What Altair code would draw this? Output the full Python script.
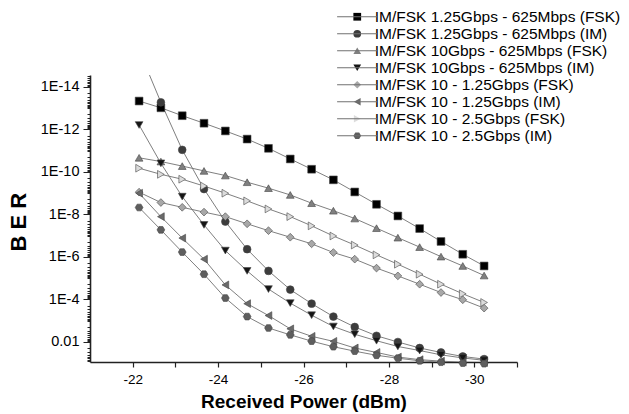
import altair as alt
import pandas as pd

# Received power (dBm) of the measurement points
power = [-22.15, -22.66, -23.16, -23.67, -24.17, -24.68, -25.18, -25.69, -26.19,
         -26.70, -27.20, -27.71, -28.21, -28.72, -29.22, -29.73, -30.23]

series_names = [
    "IM/FSK 1.25Gbps - 625Mbps (FSK)",
    "IM/FSK 1.25Gbps - 625Mbps (IM)",
    "IM/FSK 10Gbps - 625Mbps (FSK)",
    "IM/FSK 10Gbps - 625Mbps (IM)",
    "IM/FSK 10 - 1.25Gbps (FSK)",
    "IM/FSK 10 - 1.25Gbps (IM)",
    "IM/FSK 10 - 2.5Gbps (FSK)",
    "IM/FSK 10 - 2.5Gbps (IM)",
]

ber_125_625_fsk = [4.7e-14, 9.8e-14, 2.3e-13, 5.2e-13, 1.2e-12, 2.9e-12, 7.9e-12, 2.5e-11, 7.6e-11,
                   2.4e-10, 8.9e-10, 3.4e-9, 1.2e-8, 4.7e-8, 1.9e-7, 7.6e-7, 2.7e-6]
ber_125_625_im = [1.9e-16, 5.4e-14, 9.3e-12, 6.5e-10, 2.2e-8, 4.4e-7, 4.6e-6, 3.5e-5, 1.6e-4,
                  6.5e-4, 2.0e-3, 5.2e-3, 1.02e-2, 1.95e-2, 3.16e-2, 4.9e-2, 6.5e-2]
ber_10_625_fsk = [2.2e-11, 3.3e-11, 5.4e-11, 9.1e-11, 1.5e-10, 3.1e-10, 5.9e-10, 1.23e-9, 3.0e-9,
                  6.8e-9, 1.58e-8, 4.5e-8, 1.26e-7, 3.5e-7, 9.8e-7, 2.7e-6, 7.6e-6]
ber_10_625_im = [6.3e-13, 4.0e-11, 1.48e-9, 3.16e-8, 5.1e-7, 4.6e-6, 3.3e-5, 1.51e-4, 5.6e-4,
                 1.9e-3, 4.4e-3, 8.9e-3, 1.66e-2, 2.57e-2, 4.1e-2, 5.75e-2, 7.4e-2]
ber_10_125_fsk = [9.1e-10, 2.8e-9, 4.7e-9, 7.9e-9, 1.29e-8, 2.8e-8, 5.9e-8, 1.2e-7, 2.45e-7,
                  6.3e-7, 1.29e-6, 3.4e-6, 7.9e-6, 1.95e-5, 4.8e-5, 1.05e-4, 2.6e-4]
ber_10_125_im = [1.02e-9, 1.29e-8, 1.32e-7, 1.29e-6, 2.1e-5, 1.6e-4, 5.8e-4, 2.45e-3, 5.5e-3,
                 9.5e-3, 1.95e-2, 3.16e-2, 5.2e-2, 6.9e-2, 8.1e-2, 9.1e-2, 9.5e-2]
ber_10_25_fsk = [6.8e-11, 1.32e-10, 2.24e-10, 4.7e-10, 1.02e-9, 2.34e-9, 5.6e-9, 1.29e-8, 3.5e-8,
                 1.05e-7, 2.8e-7, 8.1e-7, 2.24e-6, 6.6e-6, 1.95e-5, 5.5e-5, 1.41e-4]
ber_10_25_im = [4.8e-9, 5.4e-8, 6.0e-7, 6.6e-6, 8.7e-5, 6.5e-4, 2.24e-3, 4.7e-3, 9.3e-3,
                1.7e-2, 2.75e-2, 4.3e-2, 5.9e-2, 7.8e-2, 9.1e-2, 1.0e-1, 1.07e-1]

all_ber = [ber_125_625_fsk, ber_125_625_im, ber_10_625_fsk, ber_10_625_im,
           ber_10_125_fsk, ber_10_125_im, ber_10_25_fsk, ber_10_25_im]

# axis tick lists
x_ticks = [-22, -23, -24, -25, -26, -27, -28, -29, -30, -31]
y_decades = [-15, -14, -13, -12, -11, -10, -9, -8, -7, -6, -5, -4, -3, -2]
y_mult = [1, 2, 3, 4, 5, 6, 7, 8, 9]

Y_MIN, Y_MAX = 2.8e-15, 0.089
y_ticks = [m * 10.0 ** e for e in y_decades for m in y_mult if Y_MIN <= m * 10.0 ** e <= Y_MAX]

# styles
shapes = ["square", "circle", "triangle-up", "triangle-down", "diamond",
          "triangle-left", "triangle-right",
          "M-1,0L-0.5,-0.866L0.5,-0.866L1,0L0.5,0.866L-0.5,0.866Z"]
fills = ["#000000", "#3c3c3c", "#808080", "#151515", "#a8a8a8", "#6a6a6a", "#dcdcdc", "#5e5e5e"]
line_colors = ["#707070"] * len(series_names)

rows = []
for name, vals in zip(series_names, all_ber):
    for p, b in zip(power, vals):
        rows.append({"power": p, "ber": b, "series": name, "series_line": name})
df = pd.DataFrame(rows)

FONT = "Liberation Sans"
LEG_X, LEG_Y = 259.5, -66.0
LEG_FS, LEG_ROWPAD = 15.5, -1.8
LEG_LABEL_OFF = 9.7

x_enc = alt.X(
    "power:Q",
    scale=alt.Scale(domain=[-21, -31], nice=False, zero=False),
    axis=alt.Axis(
        values=x_ticks,
        labelExpr="datum.value % 2 == 0 ? '' + datum.value : ''",
        title="Received Power (dBm)",
        titleFont=FONT, titleFontSize=19, titleFontWeight="bold", titleColor="#000",
        titleX=213.5, titleY=45.7, titleBaseline="alphabetic", titleAlign="center",
        labelFont=FONT, labelFontSize=13.5, labelColor="#000", labelPadding=5,
        tickSize=5, tickColor="#222", tickWidth=1.2,
        domainColor="#222", domainWidth=1.6, grid=False, labelFlush=False,
    ),
)

logv = "(log(datum.value)/LN10)"
is_major = f"abs({logv} - round({logv})) < 0.01 && round({logv}) % 2 == 0"
y_enc = alt.Y(
    "ber:Q",
    scale=alt.Scale(type="log", domain=[Y_MAX, Y_MIN], nice=False),
    axis=alt.Axis(
        values=y_ticks,
        labelExpr=f"{is_major} ? (round({logv}) == -2 ? '0.01' : '1E' + round({logv})) : ''",
        title="B E R",
        titleFont=FONT, titleFontSize=22, titleFontWeight="bold", titleColor="#000",
        titleX=-65, titleY=146.7, titleBaseline="alphabetic", titleAlign="center",
        labelFont=FONT, labelFontSize=14.5, labelColor="#000", labelPadding=4,
        tickSize={"condition": {"test": is_major, "value": 7}, "value": 3},
        tickColor="#222", tickWidth=1,
        domainColor="#222", domainWidth=1.6, grid=False, labelFlush=False,
        labelOverlap=False,
    ),
)

lines = alt.Chart(df).mark_line(clip=True, strokeWidth=0.9).encode(
    x=x_enc,
    y=y_enc,
    color=alt.Color(
        "series_line:N",
        scale=alt.Scale(domain=series_names, range=line_colors),
        legend=alt.Legend(
            title=None, orient="none", legendX=LEG_X, legendY=LEG_Y,
            symbolType="M-5.2,0H5.2", symbolSize=60, symbolStrokeWidth=1,
            symbolStrokeColor="#707070",
            labelExpr="' '",
            labelFont=FONT, labelFontSize=LEG_FS, labelLimit=400,
            rowPadding=LEG_ROWPAD, padding=0, labelOffset=LEG_LABEL_OFF,
        ),
    ),
    detail="series:N",
)

pt_legend = alt.Legend(
    title=None, orient="none", legendX=LEG_X, legendY=LEG_Y,
    symbolSize=60, symbolStrokeColor="#444", symbolStrokeWidth=0.6,
    labelFont=FONT, labelFontSize=LEG_FS, labelColor="#000", labelLimit=400,
    rowPadding=LEG_ROWPAD, padding=0, labelOffset=LEG_LABEL_OFF,
)

points = alt.Chart(df).mark_point(filled=True, size=60, stroke="#444", strokeWidth=0.6, opacity=1).encode(
    x=x_enc,
    y=y_enc,
    shape=alt.Shape("series:N", scale=alt.Scale(domain=series_names, range=shapes), legend=pt_legend),
    fill=alt.Fill("series:N", scale=alt.Scale(domain=series_names, range=fills), legend=pt_legend),
).transform_filter(f"datum.ber >= {Y_MIN}")

chart = alt.layer(lines, points).resolve_legend(color="independent").properties(
    width=427, height=287,
    autosize=alt.AutoSizeParams(type="none"),
    padding={"left": 90, "top": 75, "right": 112, "bottom": 52},
    background="white",
).configure_view(stroke=None)

chart.save("out.html", embed_options={"renderer": "svg", "actions": False})
